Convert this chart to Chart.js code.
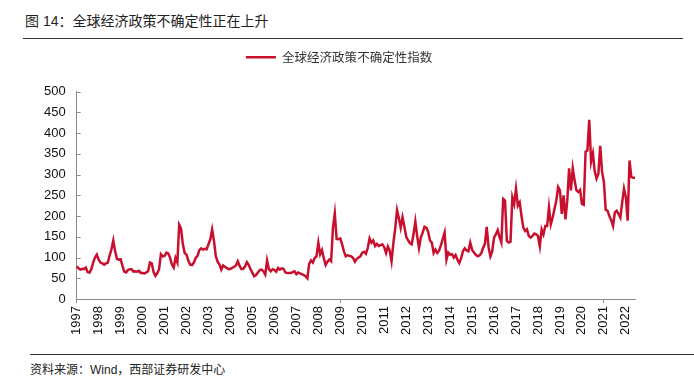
<!DOCTYPE html>
<html>
<head>
<meta charset="utf-8">
<script src="https://cdn.jsdelivr.net/npm/chart.js@4.4.0/dist/chart.umd.min.js"></script>
<style>
  body { margin: 0; width: 694px; height: 378px; background: #fff; position: relative; overflow: hidden;
         font-family: "Liberation Sans", "Noto Sans CJK SC", sans-serif; }
  .title { position: absolute; left: 25px; top: 10px; font-size: 14px; color: #222; }
  .rule-top { position: absolute; left: 23px; top: 38px; width: 660px; height: 1px; background: #333; }
  .rule-bottom { position: absolute; left: 30px; top: 354px; width: 664px; height: 1px; background: #333; }
  .source { position: absolute; left: 30px; top: 360px; font-size: 12px; color: #222; }
  .chart-box { position: absolute; left: 0; top: 40px; width: 694px; height: 304px; }
</style>
</head>
<body>
<div class="title">图 14：全球经济政策不确定性正在上升</div>
<div class="rule-top"></div>
<div class="chart-box"><canvas id="chart"></canvas></div>
<div class="rule-bottom"></div>
<div class="source">资料来源：Wind，西部证券研发中心</div>

<script>
// monthly series, Jan 1997 .. Jun 2022
const startYear = 1997;
const seriesName = "全球经济政策不确定性指数";
const gepu = [
  79, 74, 71, 73, 72, 76, 65, 64, 72, 88, 100, 107,      // 1997
  95, 88, 86, 83, 86, 88, 105, 120, 141, 115, 97, 95,    // 1998
  96, 80, 66, 64, 70, 72, 72, 66, 67, 66, 68, 63,        // 1999
  63, 62, 64, 67, 88, 86, 65, 56, 62, 72, 108, 103,      // 2000
  104, 112, 110, 100, 83, 76, 99, 88, 179, 170, 132, 111, // 2001
  107, 92, 83, 82, 88, 99, 104, 118, 122, 119, 121, 120, // 2002
  132, 144, 168, 140, 103, 90, 83, 71, 81, 78, 75, 72,   // 2003
  73, 75, 78, 81, 91, 80, 72, 73, 79, 89, 82, 72,        // 2004
  63, 55, 58, 64, 70, 71, 67, 59, 93, 72, 67, 72,        // 2005
  70, 66, 75, 71, 74, 73, 64, 63, 63, 63, 65, 67,        // 2006
  60, 64, 62, 60, 58, 55, 50, 85, 93, 88, 99, 103,       // 2007
  136, 108, 118, 98, 82, 90, 95, 91, 172, 206, 145, 144, // 2008
  146, 132, 115, 103, 106, 104, 103, 99, 90, 97, 100, 103, // 2009
  112, 114, 109, 123, 146, 136, 141, 128, 133, 128, 130, 132, // 2010
  125, 111, 127, 117, 91, 135, 170, 214, 195, 172, 197, 175, // 2011
  150, 142, 135, 132, 156, 187, 152, 123, 148, 160, 174, 172, // 2012
  162, 141, 136, 111, 119, 111, 117, 130, 145, 160, 95, 112, // 2013
  107, 108, 100, 106, 95, 87, 98, 115, 122, 117, 115, 136, // 2014
  119, 112, 107, 103, 105, 110, 123, 133, 174, 125, 103, 115, // 2015
  148, 156, 166, 149, 136, 241, 237, 140, 136, 138, 245, 229, // 2016
  266, 225, 233, 200, 172, 164, 168, 152, 148, 152, 158, 156, // 2017
  152, 127, 168, 156, 176, 176, 221, 180, 196, 217, 237, 270, // 2018
  262, 205, 250, 192, 237, 315, 262, 315, 286, 262, 258, 263, // 2019
  229, 227, 355, 358, 432, 331, 351, 307, 290, 302, 369, 307, // 2020
  282, 215, 213, 200, 190, 176, 209, 213, 205, 196, 233, 266, // 2021
  245, 189, 334, 294, 292, 292                           // 2022
];
const yMin = 0;
const yMax = 500;
const yStep = 50;

const months = gepu.map((v, i) => (startYear + Math.floor(i / 12)) + "-" + (i % 12 + 1));
const isYearStart = (i) => i % 12 === 0;

const axisGrey = "#8c8c8c";
const lineRed = "#c8102e";
const font = { family: "'Liberation Sans', Arial, sans-serif", size: 13 };

// extra room between legend and plot, and nudge the legend a bit right
const legendGap = {
  id: "legendGap",
  beforeInit(chart) {
    const lg = chart.legend;
    const fit = lg.fit;
    lg.fit = function () {
      fit.call(this);
      this.height += 18;
    };
    const draw = lg.draw;
    lg.draw = function () {
      this.ctx.save();
      this.ctx.translate(5, 0);
      draw.call(this);
      this.ctx.restore();
    };
  },
};

// small tick marks on the inside of the y axis
const innerYTicks = {
  id: "innerYTicks",
  afterDraw(chart) {
    const y = chart.scales.y;
    const ctx = chart.ctx;
    ctx.save();
    ctx.strokeStyle = axisGrey;
    ctx.lineWidth = 1;
    y.ticks.forEach((t) => {
      const py = Math.round(y.getPixelForValue(t.value)) + 0.5;
      ctx.beginPath();
      ctx.moveTo(y.right, py);
      ctx.lineTo(y.right + 4, py);
      ctx.stroke();
    });
    ctx.restore();
  },
};

new Chart(document.getElementById("chart"), {
  type: "line",
  data: {
    labels: months,
    datasets: [
      {
        label: seriesName,
        data: gepu,
        borderColor: lineRed,
        backgroundColor: lineRed,
        borderWidth: 2.5,
        pointRadius: 0,
        tension: 0,
      },
    ],
  },
  options: {
    responsive: true,
    maintainAspectRatio: false,
    animation: false,
    layout: { padding: { left: 33, right: 59, top: 0, bottom: 6 } },
    plugins: {
      legend: {
        display: true,
        position: "top",
        labels: {
          usePointStyle: true,
          pointStyle: "line",
          pointStyleWidth: 30,
          boxWidth: 30,
          color: "#333",
          font: { family: "'Noto Sans CJK SC', sans-serif", size: 12.5 },
          padding: 11,
        },
      },
      tooltip: { enabled: false },
    },
    scales: {
      x: {
        type: "category",
        offset: false,
        border: { display: true, color: axisGrey, width: 1 },
        grid: {
          drawOnChartArea: false,
          drawTicks: true,
          tickLength: 4,
          tickColor: (c) => (isYearStart(c.index) ? axisGrey : "rgba(0,0,0,0)"),
        },
        ticks: {
          autoSkip: false,
          maxRotation: 90,
          minRotation: 90,
          padding: 3,
          color: "#111",
          font: font,
          callback: (value, index) => (isYearStart(index) ? String(startYear + index / 12) : null),
        },
      },
      y: {
        min: yMin,
        max: yMax,
        border: { display: true, color: axisGrey, width: 1 },
        grid: { drawOnChartArea: false, drawTicks: false },
        ticks: { stepSize: yStep, padding: 11, color: "#111", font: font },
      },
    },
  },
  plugins: [legendGap, innerYTicks],
});
</script>
</body>
</html>
